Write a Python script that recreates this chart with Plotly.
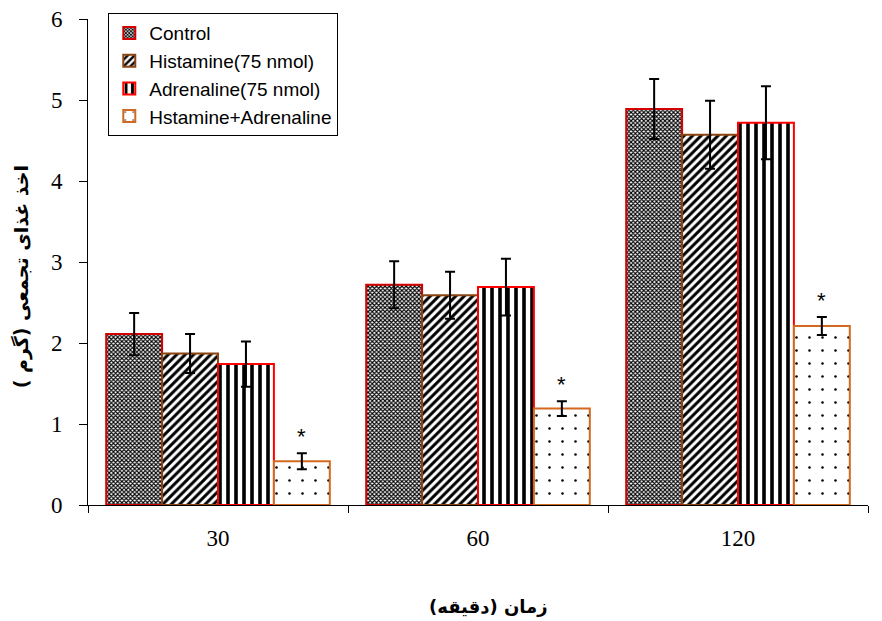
import plotly.graph_objects as go

categories = ["30", "60", "120"]
series_names = ["Control", "Histamine(75 nmol)", "Adrenaline(75 nmol)", "Hstamine+Adrenaline"]
control = [2.11, 2.72, 4.89]
control_err = [0.26, 0.29, 0.37]
histamine = [1.87, 2.59, 4.57]
histamine_err = [0.24, 0.29, 0.42]
adrenaline = [1.74, 2.69, 4.72]
adrenaline_err = [0.28, 0.35, 0.45]
combo = [0.54, 1.19, 2.21]
combo_err = [0.10, 0.09, 0.11]
y_ticks = [0, 1, 2, 3, 4, 5, 6]

values = [control, histamine, adrenaline, combo]
errors = [control_err, histamine_err, adrenaline_err, combo_err]
outline = ["#d40000", "#8b4513", "#ff0000", "#d2691e"]
patterns = [
    dict(shape="x", size=3, solidity=0.6, fgcolor="black", bgcolor="white", fgopacity=1),
    dict(shape="/", size=6, solidity=0.5, fgcolor="black", bgcolor="white", fgopacity=1),
    dict(shape="|", size=8, solidity=0.45, fgcolor="black", bgcolor="white", fgopacity=1),
    dict(shape=".", size=13, solidity=0.03, fgcolor="black", bgcolor="white", fgopacity=1),
]

fig = go.Figure()
for name, v, e, oc, pat in zip(series_names, values, errors, outline, patterns):
    fig.add_trace(go.Bar(
        name=name, x=categories, y=v,
        marker=dict(color="white", pattern=pat, line=dict(color=oc, width=2)),
        error_y=dict(type="data", array=e, color="black", thickness=2, width=5),
    ))

# significance asterisks over the combined-treatment bars
bargap = 0.14
bar_w = (1 - bargap) / 4
for i, (v, e) in enumerate(zip(combo, combo_err)):
    fig.add_annotation(x=i + 1.5 * bar_w, y=v + e, xref="x", yref="y",
                       text="*", showarrow=False, yanchor="bottom", yshift=2,
                       font=dict(family="Liberation Sans", size=22, color="black"))

# axis titles
fig.add_annotation(x=0.514, y=-0.209, xref="paper", yref="paper", yanchor="middle",
                   text="<b>زمان (دقیقه)</b>", showarrow=False,
                   font=dict(family="DejaVu Sans", size=18, color="black"))
fig.add_annotation(x=-0.085, y=0.47, xref="paper", yref="paper", xanchor="center", yanchor="middle",
                   text="<b>اخذ غذای تجمعی (گرم )</b>", showarrow=False, textangle=-90,
                   font=dict(family="DejaVu Sans", size=19, color="black"))

fig.update_layout(
    width=882, height=621,
    paper_bgcolor="white", plot_bgcolor="white",
    margin=dict(l=88, r=14, t=19, b=116, autoexpand=False),
    barmode="group", bargap=bargap, bargroupgap=0,
    showlegend=True,
    legend=dict(x=0.026, y=1.012, xanchor="left", yanchor="top",
                bordercolor="black", borderwidth=1, bgcolor="white",
                font=dict(family="Liberation Sans", size=19, color="black"),
                tracegroupgap=0, itemwidth=30),
    xaxis=dict(type="category", showline=True, linecolor="black", linewidth=1,
               ticks="outside", tickson="boundaries", ticklen=7, tickcolor="black",
               automargin=False, ticklabelstandoff=12,
               tickfont=dict(family="Liberation Serif", size=23, color="black")),
    yaxis=dict(range=[0, 6], tickvals=y_ticks, showline=True, linecolor="black", linewidth=1,
               ticks="outside", ticklen=8, tickcolor="black", showgrid=False, zeroline=False,
               automargin=False, ticklabelstandoff=12,
               tickfont=dict(family="Liberation Serif", size=23, color="black")),
)

fig.write_html("out.html", config={"displayModeBar": False},
               post_script="document.body.style.margin='0';")
